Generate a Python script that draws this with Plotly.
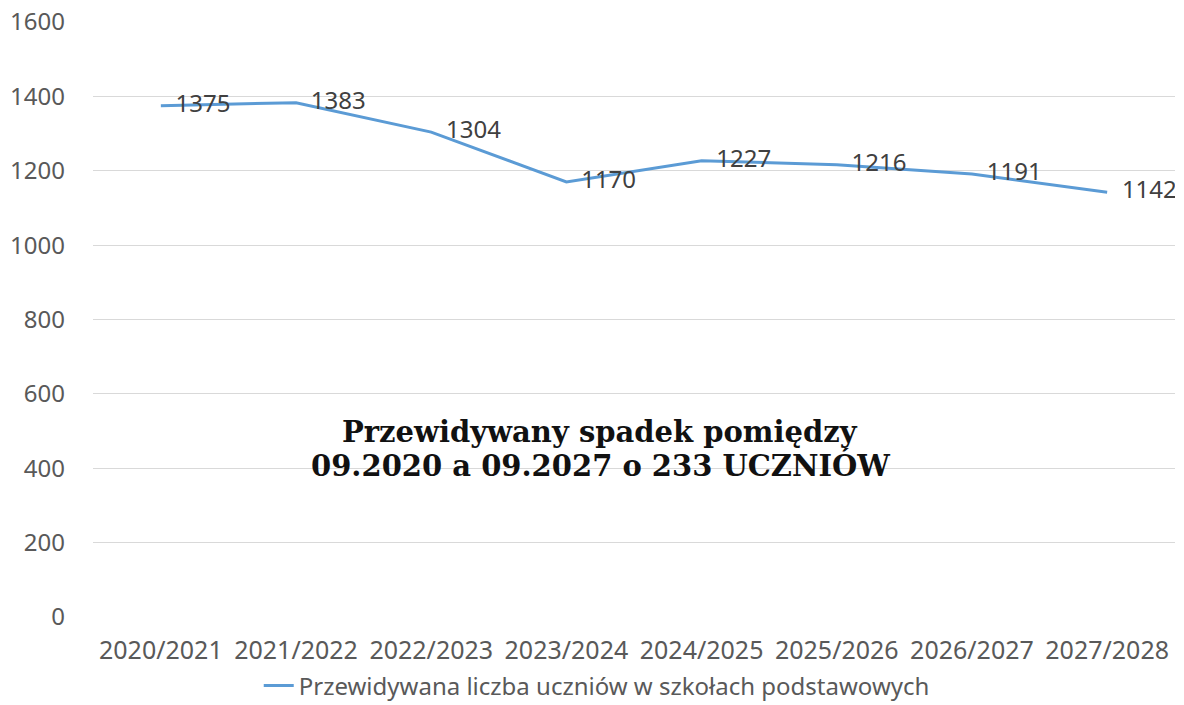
import plotly.graph_objects as go

categories = ["2020/2021", "2021/2022", "2022/2023", "2023/2024",
              "2024/2025", "2025/2026", "2026/2027", "2027/2028"]
values = [1375, 1383, 1304, 1170, 1227, 1216, 1191, 1142]
series_name = "Przewidywana liczba uczniów w szkołach podstawowych"
y_ticks = [0, 200, 400, 600, 800, 1000, 1200, 1400, 1600]
note_lines = ["Przewidywany spadek pomiędzy", "09.2020 a 09.2027 o 233 UCZNIÓW"]

fig = go.Figure()
fig.add_trace(go.Scatter(
    x=categories, y=values, name=series_name,
    mode="lines+markers+text",
    text=[str(v) for v in values],
    textposition="middle right",
    textfont=dict(family="Noto Sans", size=24, color="#404040"),
    marker=dict(size=22, color="rgba(0,0,0,0)"),
    line=dict(color="#5B9BD5", width=3),
))

for txt, yy in zip(note_lines, [0.311, 0.255]):
    fig.add_annotation(
        xref="paper", yref="paper", x=0.4686, y=yy, yanchor="middle",
        text="<b>" + txt + "</b>",
        showarrow=False, align="center",
        font=dict(family="DejaVu Serif", size=29, color="#111111"),
    )

fig.update_layout(
    width=1184, height=705,
    margin=dict(l=93, r=9, t=22, b=88),
    plot_bgcolor="white", paper_bgcolor="white",
    showlegend=True,
    legend=dict(orientation="h", xref="container", x=0.504, xanchor="center",
                yref="container", y=0.027, yanchor="middle",
                font=dict(family="Noto Sans", size=24, color="#595959")),
    xaxis=dict(type="category", showgrid=False, showline=False, ticks="",
               ticklabelstandoff=16, automargin=False,
               tickfont=dict(family="Noto Sans", size=25, color="#595959")),
    yaxis=dict(range=[0, 1600], tickvals=y_ticks, showgrid=True,
               gridcolor="#D9D9D9", gridwidth=1, zeroline=False, showline=False,
               ticks="", ticklabelstandoff=27, automargin=False,
               ticklabeloverflow="allow",
               tickfont=dict(family="Noto Sans", size=24, color="#595959")),
)

fig.write_html("out.html", config={"displayModeBar": False},
               post_script="document.body.style.margin='0';")
